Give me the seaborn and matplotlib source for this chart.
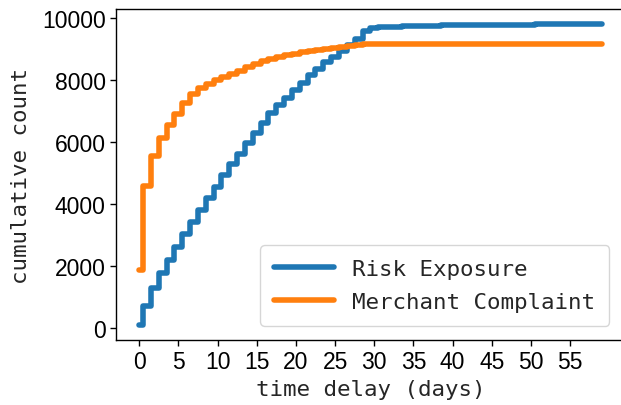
import numpy as np
import pandas as pd
import matplotlib
matplotlib.use("Agg")
import matplotlib.pyplot as plt
import seaborn as sns

days = list(range(60))
risk_exposure = [100, 720, 1280, 1760, 2200, 2620, 3030, 3430, 3800, 4180,
                 4560, 4930, 5280, 5620, 5950, 6280, 6610, 6930, 7180, 7420,
                 7665, 7910, 8150, 8355, 8570, 8750, 8940, 9130, 9320, 9560,
                 9660, 9690, 9705, 9715, 9725, 9735, 9740, 9745, 9750, 9755,
                 9760, 9763, 9766, 9769, 9772, 9775, 9777, 9779, 9781, 9783,
                 9785, 9787, 9789, 9791, 9793, 9795, 9797, 9799, 9800, 9802]
merchant_complaint = [1880, 4570, 5540, 6120, 6530, 6900, 7250, 7530, 7730, 7880,
                      8000, 8100, 8200, 8300, 8400, 8500, 8600, 8670, 8730, 8790,
                      8840, 8890, 8935, 8975, 9010, 9040, 9070, 9095, 9125, 9150,
                      9170] + [9170] * 29
series_names = ["Risk Exposure", "Merchant Complaint"]
x_ticks = list(range(0, 60, 5))
x_label = "time delay (days)"
y_label = "cumulative count"

df = pd.DataFrame({
    "day": days * 2,
    "count": risk_exposure + merchant_complaint,
    "series": [series_names[0]] * len(days) + [series_names[1]] * len(days),
})

sns.set_style("ticks")
plt.rcParams["axes.linewidth"] = 1.0

W, H = 621, 406
fig = plt.figure(figsize=(W / 100, H / 100), dpi=100)
ax = fig.add_axes([116 / W, 1 - 341 / H, (624.7 - 116) / W, (341 - 10) / H])

colors = ["#1f77b4", "#ff7f0e"]
sns.lineplot(data=df, x="day", y="count", hue="series", hue_order=series_names,
             palette=colors, drawstyle="steps-mid",
             linewidth=4.0, ax=ax, legend=False, estimator=None)

ax.set_xlim(-2.95, 61.95)
ax.set_ylim(-385, 10285)
ax.set_xticks(x_ticks)
ax.set_yticks([0, 2000, 4000, 6000, 8000, 10000])
for lab in ax.get_xticklabels() + ax.get_yticklabels():
    lab.set_fontfamily("Liberation Sans")
    lab.set_fontsize(16.5)
ax.tick_params(axis="both", length=4, width=1, colors="black")
for s in ax.spines.values():
    s.set_color("black")

mono = "DejaVu Sans Mono"
ax.set_xlabel(x_label, fontsize=16.2, family=mono, labelpad=4)
ax.set_ylabel(y_label, fontsize=16.2, family=mono, labelpad=8)

handles = [plt.Line2D([], [], color=c, lw=4.0) for c in colors]
leg = ax.legend(handles, series_names, loc="lower right",
                bbox_to_anchor=(609 / W, 1 - 326.7 / H),
                bbox_transform=fig.transFigure, borderaxespad=0,
                prop={"family": mono, "size": 16.2},
                handlelength=2.67, handletextpad=0.84, labelspacing=0.6,
                borderpad=0.6, frameon=True)

fig.savefig("out.png", dpi=100)
